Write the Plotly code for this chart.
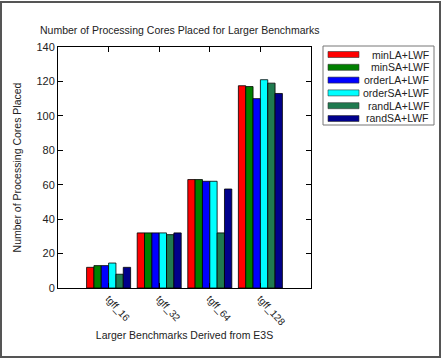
import plotly.graph_objects as go

categories = ["tgff_16", "tgff_32", "tgff_64", "tgff_128"]
series_names = ["minLA+LWF", "minSA+LWF", "orderLA+LWF", "orderSA+LWF", "randLA+LWF", "randSA+LWF"]
minLA = [12, 32, 63, 117.5]
minSA = [13, 32, 63, 117]
orderLA = [13, 32, 62, 110]
orderSA = [14.5, 32, 62, 121]
randLA = [8, 31, 32, 119]
randSA = [12, 32, 57.5, 113]
colors = ["#ff0000", "#008000", "#0000ff", "#00ffff", "#1f7a4f", "#00008b"]

values = [minLA, minSA, orderLA, orderSA, randLA, randSA]

W, H = 442, 361
ML, MR, MT, MB = 58, 131, 47, 73
PW = W - ML - MR
PH = H - MT - MB

def px_x(p):
    return (p - ML) / PW

def px_y(p):
    return (H - MB - p) / PH

fig = go.Figure()
for name, vals, col in zip(series_names, values, colors):
    fig.add_trace(go.Bar(
        x=list(range(len(categories))), y=vals, name=name,
        marker=dict(color=col, line=dict(color="black", width=0.8)),
        showlegend=False,
    ))

font_family = "Liberation Sans, Arial, sans-serif"
txt_col = "#222"

shapes = [
    dict(type="rect", xref="paper", yref="paper",
         x0=px_x(1), x1=px_x(440), y0=px_y(357), y1=px_y(2),
         line=dict(color="#555", width=2), fillcolor="rgba(0,0,0,0)", layer="below"),
    # legend box
    dict(type="rect", xref="paper", yref="paper",
         x0=px_x(323), x1=px_x(434), y0=px_y(125), y1=px_y(46),
         line=dict(color="#777", width=1), fillcolor="white"),
]
annotations = [
    dict(text="Number of Processing Cores Placed for Larger Benchmarks",
         xref="paper", yref="paper", x=px_x(38), y=px_y(30),
         xanchor="left", yanchor="middle", showarrow=False,
         font=dict(size=10.5, color=txt_col)),
]
for i, (name, col) in enumerate(zip(series_names, colors)):
    cy = 54.5 + 12.8 * i
    shapes.append(dict(type="rect", xref="paper", yref="paper",
                       x0=px_x(328), x1=px_x(359), y0=px_y(cy + 3), y1=px_y(cy - 3),
                       line=dict(color="#333", width=0.6), fillcolor=col))
    annotations.append(dict(text=name, xref="paper", yref="paper",
                            x=px_x(431), y=px_y(cy), xanchor="right", yanchor="middle",
                            showarrow=False, font=dict(size=10.5, color=txt_col)))

fig.update_layout(
    width=W, height=H,
    margin=dict(l=ML, r=MR, t=MT, b=MB, pad=0),
    paper_bgcolor="white", plot_bgcolor="white",
    barmode="group", bargap=0.13, bargroupgap=0,
    font=dict(family=font_family, size=11, color=txt_col),
    showlegend=False,
    xaxis=dict(
        range=[-1, 4], tickmode="array", tickvals=list(range(len(categories))),
        ticktext=categories, tickangle=48,
        ticks="inside", ticklen=5, tickcolor="black",
        showline=True, linecolor="black", linewidth=1, mirror="ticks",
        showgrid=False, zeroline=False,
        tickfont=dict(size=10, color=txt_col),
        title=dict(text="Larger Benchmarks Derived from E3S", standoff=4,
                   font=dict(size=10.5, color=txt_col)),
    ),
    yaxis=dict(
        range=[0, 140], dtick=20, ticks="inside", ticklen=5, tickcolor="black",
        showline=True, linecolor="black", linewidth=1, mirror="ticks",
        showgrid=False, zeroline=False,
        tickfont=dict(size=11, color=txt_col),
        title=dict(text="Number of Processing Cores Placed", standoff=12,
                   font=dict(size=10.5, color=txt_col)),
    ),
    shapes=shapes,
    annotations=annotations,
)

fig.write_html("out.html")
